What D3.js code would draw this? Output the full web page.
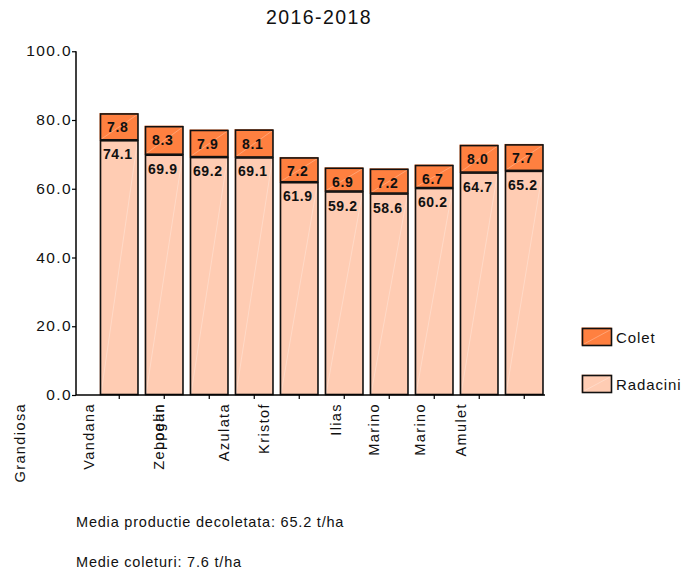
<!DOCTYPE html>
<html>
<head>
<meta charset="utf-8">
<script src="https://cdn.jsdelivr.net/npm/d3@7"></script>
<style>
  html, body { margin: 0; padding: 0; background: #fff; }
  svg { display: block; font-family: Arial, "Liberation Sans", sans-serif; }
</style>
</head>
<body>
<svg id="chart" width="685" height="571"></svg>
<script>
// Varieties (in order of the bars)
const categories = ["Grandiosa", "Vandana", "Zeppelin", "Logan", "Azulata", "Kristof", "Ilias", "Marino", "Marino", "Amulet"];
// Root yield (t/ha)
const radacini = [74.1, 69.9, 69.2, 69.1, 61.9, 59.2, 58.6, 60.2, 64.7, 65.2];
// Collar yield (t/ha)
const colet = [7.8, 8.3, 7.9, 8.1, 7.2, 6.9, 7.2, 6.7, 8.0, 7.7];
const yTicks = [0, 20, 40, 60, 80, 100];
const seriesNames = ["Colet", "Radacini"];
const title = "2016-2018";
const notes = ["Media productie decoletata: 65.2 t/ha", "Medie coleturi: 7.6 t/ha"];

// ---- layout ----
const colors = { Colet: "#FF8040", Radacini: "#FFCCB3" };
const axisX = 76, baseY = 395, topY = 51.25;
// category label placement, in steps relative to each bar's centre
const labelShift = [-2.21, -1.67, -1.11, -2.11, -1.67, -1.78, -1.18, -1.33, -1.32, -1.4];

const svg = d3.select("#chart");

const x = d3.scaleBand()
  .domain(d3.range(categories.length))
  .range([96.75, 546.75])
  .paddingInner(0.145)
  .paddingOuter(0.0725);

const y = d3.scaleLinear().domain([0, 100]).range([baseY, topY]);

// title
svg.append("text")
  .attr("x", 319).attr("y", 24)
  .attr("text-anchor", "middle")
  .attr("font-size", 19.5)
  .attr("letter-spacing", 1.4)
  .attr("fill", "#111")
  .text(title);

// stacked segments
const segs = [];
categories.forEach((c, i) => {
  segs.push({ i, s: "Radacini", y0: 0, y1: radacini[i], v: radacini[i] });
  segs.push({ i, s: "Colet", y0: radacini[i], y1: radacini[i] + colet[i], v: colet[i] });
});

const g = svg.append("g");
const bw = x.bandwidth();

const seg = g.selectAll("g.seg").data(segs).join("g").attr("class", "seg");
seg.append("rect")
  .attr("x", d => x(d.i) - 0.5)
  .attr("y", d => y(d.y1) - 0.5)
  .attr("width", bw)
  .attr("height", d => y(d.y0) - y(d.y1))
  .attr("fill", d => colors[d.s]);
// faint diagonal sheen
seg.append("line")
  .attr("x1", d => x(d.i) + 1).attr("y1", d => y(d.y0) - 1)
  .attr("x2", d => x(d.i) + bw - 1).attr("y2", d => y(d.y1) + 1)
  .attr("stroke", "#fff").attr("stroke-opacity", 0.35).attr("stroke-width", 0.8);
seg.append("rect")
  .attr("x", d => x(d.i) + 0.5)
  .attr("y", d => y(d.y1) + 0.5)
  .attr("width", bw - 1)
  .attr("height", d => y(d.y0) - y(d.y1) - 1)
  .attr("fill", "none")
  .attr("stroke", "#111")
  .attr("stroke-width", 1.6);

// value labels
g.selectAll("text.val").data(segs).join("text")
  .attr("class", "val")
  .attr("x", d => x(d.i) + bw / 2 - 1.5)
  .attr("y", d => y(d.y1) + 19)
  .attr("text-anchor", "middle")
  .attr("font-size", 14)
  .attr("font-weight", "bold")
  .attr("letter-spacing", 0.6)
  .attr("fill", "#111")
  .text(d => d.v.toFixed(1));

// y axis
const yAxis = d3.axisLeft(y).tickValues(yTicks).tickSize(4).tickFormat(d3.format(".1f"));
const ya = svg.append("g").attr("transform", `translate(${axisX},0)`).call(yAxis);
ya.select(".domain").attr("d", `M0,${baseY}V${topY}`).attr("stroke", "#000").attr("stroke-width", 1.5);
ya.selectAll(".tick line").attr("stroke", "#000").attr("stroke-width", 1.2);
ya.selectAll(".tick text")
  .attr("font-family", "Arial, 'Liberation Sans', sans-serif")
  .attr("font-size", 15.5).attr("letter-spacing", 1.4).attr("fill", "#111")
  .attr("x", -4).attr("dy", "0.3em");

// x axis
const xa = svg.append("g");
xa.append("line")
  .attr("x1", axisX).attr("x2", 545)
  .attr("y1", baseY).attr("y2", baseY)
  .attr("stroke", "#000").attr("stroke-width", 1.5);
xa.selectAll("line.tick").data(d3.range(categories.length)).join("line")
  .attr("class", "tick")
  .attr("x1", i => x(i) + bw / 2).attr("x2", i => x(i) + bw / 2)
  .attr("y1", baseY).attr("y2", baseY + 4)
  .attr("stroke", "#000").attr("stroke-width", 1.2);
xa.selectAll("text.cat").data(categories).join("text")
  .attr("class", "cat")
  .attr("transform", (d, i) => `translate(${x(i) + bw / 2 + labelShift[i] * x.step() + 5},${baseY + 8}) rotate(-90)`)
  .attr("text-anchor", "end")
  .attr("font-size", 14.5)
  .attr("letter-spacing", 1.4)
  .attr("fill", "#111")
  .text(d => d);

// legend
const lg = svg.append("g").attr("transform", "translate(582,328)");
seriesNames.forEach((s, k) => {
  const row = lg.append("g").attr("transform", `translate(0,${k * 47})`);
  row.append("rect").attr("x", -0.5).attr("y", -0.5).attr("width", 30).attr("height", 18).attr("fill", colors[s]);
  row.append("line").attr("x1", 2).attr("y1", 16).attr("x2", 28).attr("y2", 2)
    .attr("stroke", "#fff").attr("stroke-opacity", 0.35).attr("stroke-width", 0.8);
  row.append("rect").attr("x", 0.5).attr("y", 0.5).attr("width", 29).attr("height", 17)
    .attr("fill", "none").attr("stroke", "#111").attr("stroke-width", 1.6);
  row.append("text").attr("x", 34).attr("y", 14.5)
    .attr("font-size", 15).attr("letter-spacing", 0.9).attr("fill", "#111").text(s);
});

// notes
notes.forEach((t, k) => {
  svg.append("text")
    .attr("x", 76).attr("y", 527 + k * 40)
    .attr("font-size", 14.5).attr("letter-spacing", 0.8).attr("fill", "#111")
    .text(t);
});
</script>
</body>
</html>
